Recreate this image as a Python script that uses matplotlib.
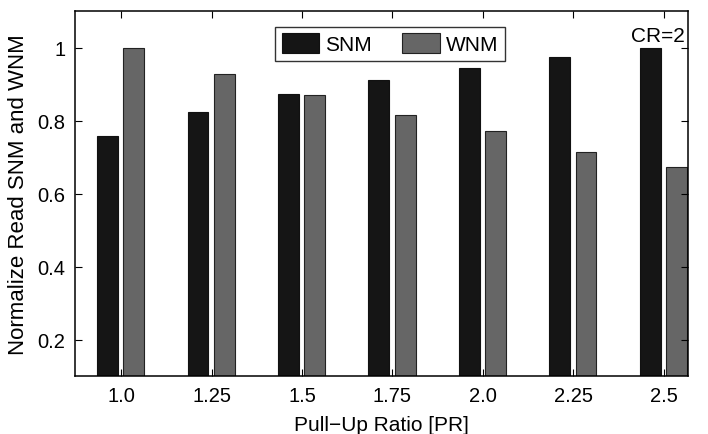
import numpy as np
import matplotlib.pyplot as plt

plt.rcParams['font.family'] = ['Liberation Sans', 'DejaVu Sans']

# Данные
pr_labels = ['1.0', '1.25', '1.5', '1.75', '2.0', '2.25', '2.5']
snm = [0.759, 0.825, 0.873, 0.912, 0.945, 0.975, 1.0]
wnm = [1.0, 0.929, 0.870, 0.816, 0.772, 0.714, 0.673]

x = np.arange(1, len(pr_labels) + 1)

fig = plt.figure(figsize=(7.08, 4.35), dpi=100)
ax = fig.add_axes([0.106, 0.133, 0.866, 0.839])

w = 0.23
ax.bar(x - 0.15, snm, w, bottom=0, color='#151515', edgecolor='#111111', linewidth=0.8, label='SNM')
ax.bar(x + 0.14, wnm, w, bottom=0, color='#666666', edgecolor='#222222', linewidth=0.8, label='WNM')

ax.set_xlim(0.49, 7.27)
ax.set_ylim(0.1, 1.1)
ax.set_xticks(x)
ax.set_xticklabels(pr_labels)
ax.set_yticks([0.2, 0.4, 0.6, 0.8, 1.0])
ax.set_yticklabels(['0.2', '0.4', '0.6', '0.8', '1'])
ax.tick_params(direction='in', top=True, right=True, labelsize=14.5, length=5, pad=7)
for s in ax.spines.values():
    s.set_linewidth(1.1)

ax.set_xlabel('Pull\u2212Up Ratio [PR]', fontsize=15, labelpad=7)
ax.set_ylabel('Normalize Read SNM and WNM', fontsize=16, labelpad=6)

ax.legend(loc='upper center', ncol=2, fontsize=15, frameon=True, fancybox=False,
          edgecolor='black', bbox_to_anchor=(0.514, 0.985), handlelength=1.8,
          handleheight=1.1, columnspacing=1.45, handletextpad=0.3, borderpad=0.3)
ax.text(6.93, 1.033, 'CR=2', fontsize=15, ha='center', va='center')

plt.savefig('out.png', dpi=100)
